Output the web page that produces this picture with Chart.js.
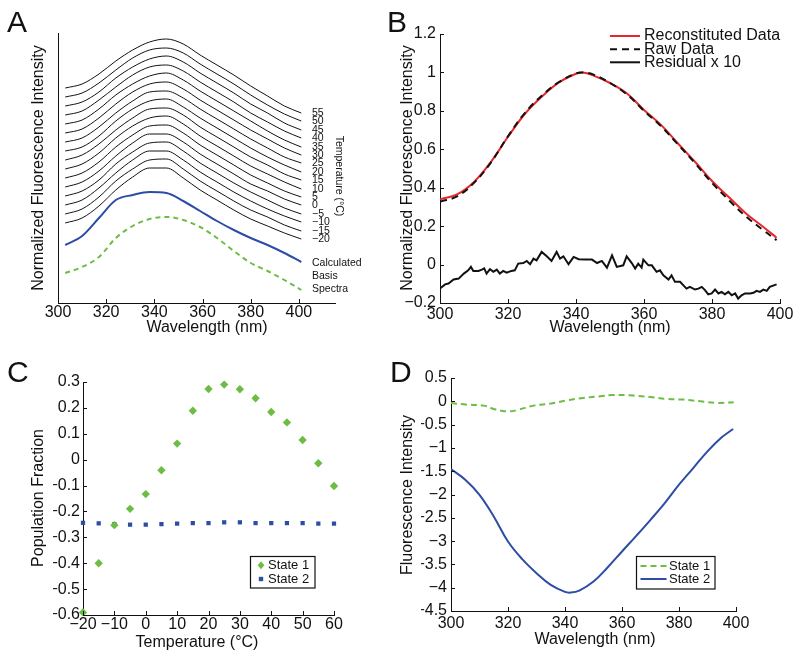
<!DOCTYPE html>
<html><head><meta charset="utf-8">
<script src="https://cdn.jsdelivr.net/npm/chart.js@4.4.0/dist/chart.umd.min.js"></script>
<style>
html,body{margin:0;padding:0;background:#fff;width:799px;height:660px;overflow:hidden;}
body{position:relative;font-family:"Liberation Sans",Arial,Helvetica,sans-serif;}
canvas{position:absolute;}
.lbl{position:absolute;font-size:30px;line-height:30px;color:#111;}
</style></head><body>
<canvas id="cA" width="400" height="345" style="left:0;top:0;width:400px;height:345px"></canvas>
<canvas id="cB" width="399" height="345" style="left:400px;top:0;width:399px;height:345px"></canvas>
<canvas id="cC" width="400" height="330" style="left:0;top:330px;width:400px;height:330px"></canvas>
<canvas id="cD" width="399" height="330" style="left:400px;top:330px;width:399px;height:330px"></canvas>
<div class="lbl" style="left:7px;top:7px">A</div>
<div class="lbl" style="left:387px;top:7px">B</div>
<div class="lbl" style="left:7px;top:357px">C</div>
<div class="lbl" style="left:390px;top:357px">D</div>
<script>
// ---------- Panel A data (offset spectra, arbitrary normalized units) ----------
const aW = [303,310,317,324,331,338,345,352,359,366,373,380,387,394,401];
const aTempLabels = ['55','50','45','40','35','30','25','20','15','10','5','0','\u22125','\u221210','\u221215','\u221220'];
const t55  = [215,219,229,242,253,261,264,259,248,238,228,217,207,197,190];
const t50  = [206,210,220,233,245,253,255,250,239,229,219,208,198,189,182];
const t45  = [197,201,211,225,236,244,247,241,230,220,210,199,190,180,173];
const t40  = [188,192,203,216,228,236,238,232,221,211,201,190,181,172,165];
const t35  = [179,183,194,208,219,227,230,223,212,202,192,182,172,163,156];
const t30  = [170,174,185,199,211,219,221,214,203,193,183,173,164,155,148];
const t25  = [161,165,176,190,202,211,212,205,194,184,174,164,155,146,140];
const t20  = [152,156,167,182,194,202,204,196,185,175,165,155,146,138,131];
const t15  = [143,148,159,173,185,194,195,188,176,166,156,146,138,129,123];
const t10  = [134,139,150,165,177,185,187,179,167,157,147,137,129,121,114];
const t5   = [125,130,141,156,168,177,178,170,158,148,138,128,120,112,106];
const t0   = [116,121,132,147,160,169,169,161,149,139,129,119,112,104,98];
const tm5  = [107,112,123,139,151,160,161,152,140,130,120,111,103,95,89];
const tm10 = [98,103,115,130,143,152,152,143,131,121,111,102,94,87,81];
const tm15 = [89,94,106,122,134,143,144,134,122,112,102,93,86,78,72];
const tm20 = [80,85,97,113,126,135,135,125,113,103,93,84,77,70,64];
const aTemps = [t55,t50,t45,t40,t35,t30,t25,t20,t15,t10,t5,t0,tm5,tm10,tm15,tm20];
const aBasis1 = [58,67,85,103,108,111,110,102,92,82,73,65,58,50,41];   // blue
const aBasis2 = [30,36,46,65,77,84,86,83,76,65,52,40,32,23,13];        // green dashed
const aXTicks = [300,320,340,360,380,400];

// ---------- Panel B data ----------
const bW = [300,305,310,315,320,325,330,335,340,342,345,350,355,360,365,370,375,380,385,390,395,399];
const bRecon = [0.34,0.365,0.43,0.535,0.665,0.785,0.875,0.948,0.993,1.0,0.985,0.945,0.89,0.805,0.727,0.63,0.535,0.435,0.35,0.266,0.197,0.14];
const bRaw   = [0.327,0.355,0.425,0.532,0.668,0.79,0.88,0.95,0.995,1.0,0.99,0.945,0.885,0.80,0.72,0.625,0.528,0.425,0.335,0.25,0.18,0.127];
const bResW = [300,301.5,302.5,304,305.5,307,308.3,309.1,309.8,311.3,312.3,313,313.7,314.7,315.7,316.7,317.6,318.6,319.6,321,322,323,324.5,325.5,326.5,327.5,328.4,329.9,331.4,332.8,334.3,335.3,336.3,337.8,339.3,340.8,342.7,344.7,346.2,347.6,349.1,350.6,352,353.9,354.9,356.4,357.4,358.3,359.3,359.8,361.3,362.3,363.7,364.7,365.7,367.2,368.1,369.1,370.6,371.6,372.5,373.5,375,376,377,378,378.9,379.9,380.9,381.9,382.8,383.8,384.8,385.8,386.8,387.7,388.7,389.7,391.2,392.2,393.1,394.1,395.1,396.1,397,399];
const bResV = [-0.125,-0.103,-0.099,-0.078,-0.073,-0.047,-0.03,-0.012,-0.033,-0.033,-0.026,-0.02,-0.047,-0.024,-0.038,-0.026,-0.047,-0.033,-0.042,-0.033,-0.03,0.005,0.008,0.019,0.002,0.031,0.022,0.066,0.043,0.019,0.066,0.031,0.043,0.002,0.04,0.028,0.026,0.026,0.008,0.019,-0.016,0.048,-0.012,-0.004,0.043,0.008,-0.021,0.005,-0.016,0.026,-0.004,-0.004,-0.038,-0.03,-0.056,-0.078,-0.056,-0.09,-0.09,-0.108,-0.125,-0.116,-0.13,-0.125,-0.116,-0.134,-0.155,-0.15,-0.13,-0.15,-0.142,-0.155,-0.142,-0.16,-0.15,-0.177,-0.16,-0.15,-0.15,-0.147,-0.137,-0.142,-0.13,-0.137,-0.116,-0.103];
const bXTicks = [300,320,340,360,380,400];
const bYTicks = [-0.2,0,0.2,0.4,0.6,0.8,1,1.2];

// ---------- Panel C data ----------
const cTemp = [-20,-15,-10,-5,0,5,10,15,20,25,30,35,40,45,50,55,60];
const cState1 = [-0.59,-0.40,-0.253,-0.19,-0.133,-0.041,0.062,0.189,0.273,0.29,0.272,0.237,0.184,0.144,0.076,-0.014,-0.102];
const cState2 = [-0.244,-0.246,-0.249,-0.251,-0.251,-0.249,-0.247,-0.245,-0.245,-0.242,-0.242,-0.245,-0.245,-0.245,-0.245,-0.247,-0.247];
const cXTicks = [-20,-10,0,10,20,30,40,50,60];
const cYTicks = [-0.6,-0.5,-0.4,-0.3,-0.2,-0.1,0,0.1,0.2,0.3];

// ---------- Panel D data ----------
const dW2 = [300,305,310,315,320,325,330,335,340,342,345,350,355,360,365,370,375,380,385,390,395,399];
const dState2 = [-1.454,-1.683,-2.006,-2.471,-3.009,-3.388,-3.689,-3.94,-4.09,-4.105,-4.062,-3.868,-3.56,-3.223,-2.887,-2.543,-2.185,-1.79,-1.433,-1.074,-0.774,-0.595];
const dW1 = [300,305.6,311.5,315,317.3,320.8,323.7,329,334.9,340.7,346.5,352.4,357,364,369.9,375.8,381.6,387.5,393.3,399.2];
const dState1 = [-0.036,-0.072,-0.093,-0.165,-0.2,-0.215,-0.179,-0.093,-0.05,0.021,0.072,0.107,0.136,0.122,0.093,0.05,0.036,0,-0.036,-0.021];
const dXTicks = [300,320,340,360,380,400];
const dYTicks = [-4.5,-4,-3.5,-3,-2.5,-2,-1.5,-1,-0.5,0,0.5];

// ---------- helpers ----------
const FONT = '"Liberation Sans", Arial, Helvetica, sans-serif';
const INK = '#111111';
const GREEN = '#6dbd45';
const BLUE = '#2d4da5';
const RED = '#e8262b';

function pts(xs, ys){ return xs.map((x,i)=>({x:x, y:ys[i]})); }
function fmt(v){ return String(Math.round(v*100)/100).replace('-', '\u2212'); }
function fixedTicks(arr){ return function(scale){ scale.ticks = arr.map(v=>({value:v})); }; }

function innerTicks(opts){
  return { id:'innerTicks', afterDraw(chart){
    const ctx = chart.ctx, a = chart.chartArea;
    ctx.save(); ctx.strokeStyle = INK; ctx.lineWidth = 1; ctx.beginPath();
    if (opts.x) chart.scales.x.ticks.forEach(t=>{
      const px = Math.round(chart.scales.x.getPixelForValue(t.value)) + 0.5;
      ctx.moveTo(px, a.bottom); ctx.lineTo(px, a.bottom - opts.len);
    });
    if (opts.y) chart.scales.y.ticks.forEach(t=>{
      const py = Math.round(chart.scales.y.getPixelForValue(t.value)) + 0.5;
      ctx.moveTo(a.left, py); ctx.lineTo(a.left + opts.len, py);
    });
    ctx.stroke(); ctx.restore();
  }};
}
function drawText(ctx, it){
  ctx.save();
  ctx.font = (it.size || 16) + 'px ' + FONT;
  ctx.fillStyle = it.color || INK;
  ctx.textAlign = it.align || 'center';
  ctx.textBaseline = it.base || 'alphabetic';
  ctx.translate(it.x, it.y);
  if (it.rot) ctx.rotate(it.rot);
  ctx.fillText(it.t, 0, 0);
  ctx.restore();
}
function texts(items){ return { id:'texts', afterDraw(chart){ items.forEach(it=>drawText(chart.ctx, it)); } }; }

function legendPlugin(cfg){
  return { id:'customLegend', afterDraw(chart){
    const ctx = chart.ctx;
    if (cfg.box){
      ctx.save(); ctx.fillStyle = '#fff'; ctx.strokeStyle = INK; ctx.lineWidth = 1.2;
      ctx.fillRect(cfg.box[0], cfg.box[1], cfg.box[2], cfg.box[3]);
      ctx.strokeRect(cfg.box[0], cfg.box[1], cfg.box[2], cfg.box[3]);
      ctx.restore();
    }
    cfg.items.forEach(it=>{
      ctx.save();
      if (it.line){
        ctx.strokeStyle = it.color; ctx.lineWidth = it.width || 2;
        ctx.setLineDash(it.dash || []);
        ctx.beginPath(); ctx.moveTo(it.line[0], it.y); ctx.lineTo(it.line[1], it.y); ctx.stroke();
      }
      if (it.marker){
        ctx.fillStyle = it.color;
        const m = it.marker;
        ctx.beginPath();
        if (m.type === 'diamond'){ ctx.moveTo(m.x, it.y - m.r); ctx.lineTo(m.x + m.r*0.85, it.y); ctx.lineTo(m.x, it.y + m.r); ctx.lineTo(m.x - m.r*0.85, it.y); ctx.closePath(); }
        else { ctx.rect(m.x - m.r, it.y - m.r, 2*m.r, 2*m.r); }
        ctx.fill();
      }
      ctx.restore();
      drawText(ctx, {t:it.text, x:it.tx, y:it.y, size:cfg.size, align:'left', base:'middle'});
    });
  }};
}

function xAxis(min, max, tickArr, pad, size, h){
  return { type:'linear', min:min, max:max, afterBuildTicks: fixedTicks(tickArr),
    afterFit: s=>{ s.height = h; },
    grid:{display:false, drawTicks:false}, border:{display:true, color:INK, width:1},
    ticks:{font:{family:FONT, size:size}, color:INK, padding:pad, maxRotation:0, minRotation:0, autoSkip:false, callback: fmt} };
}
function yAxis(min, max, tickArr, pad, size, w, show){
  return { type:'linear', min:min, max:max, afterBuildTicks: fixedTicks(tickArr),
    afterFit: s=>{ s.width = w; },
    grid:{display:false, drawTicks:false}, border:{display:true, color:INK, width:1},
    ticks:{display: show, font:{family:FONT, size:size}, color:INK, padding:pad, autoSkip:false, callback: fmt} };
}
const baseOpts = { responsive:false, animation:false, events:[], devicePixelRatio:1,
  plugins:{legend:{display:false}, tooltip:{enabled:false}} };

// ---------- Chart A ----------
const aLabelPlugin = { id:'aLabels', afterDraw(chart){
  const ctx = chart.ctx, ys = chart.scales.y;
  aTemps.forEach((arr, i)=>{
    drawText(ctx, {t:aTempLabels[i], x:312, y: ys.getPixelForValue(arr[arr.length-1]), size:10.5, align:'left', base:'middle'});
  });
  drawText(ctx, {t:'Temperature (\u00B0C)', x:339, y:176, size:10.5, align:'center', base:'middle', rot:Math.PI/2});
  drawText(ctx, {t:'Calculated', x:312, y:263, size:10.5, align:'left', base:'middle'});
  drawText(ctx, {t:'Basis', x:312, y:276.5, size:10.5, align:'left', base:'middle'});
  drawText(ctx, {t:'Spectra', x:312, y:289.5, size:10.5, align:'left', base:'middle'});
}};
new Chart(document.getElementById('cA'), {
  type:'line',
  data:{ datasets: aTemps.map(ys=>({data:pts(aW, ys), borderColor:INK, borderWidth:1, pointRadius:0, cubicInterpolationMode:'monotone', clip:false}))
    .concat([
      {data:pts(aW, aBasis1), borderColor:BLUE, borderWidth:2, pointRadius:0, cubicInterpolationMode:'monotone', clip:false},
      {data:pts(aW, aBasis2), borderColor:GREEN, borderWidth:2, borderDash:[5,4], pointRadius:0, cubicInterpolationMode:'monotone', clip:false}
    ]) },
  options: Object.assign({}, baseOpts, {
    layout:{padding:{left:48, right:65, top:33, bottom:12}},
    scales:{ x: xAxis(300, 415, aXTicks, 0, 16, 30), y: yAxis(0, 270, [], 0, 15, 10, false) }
  }),
  plugins:[innerTicks({x:true, y:false, len:4}), aLabelPlugin,
    texts([{t:'Wavelength (nm)', x:207, y:332, size:16},
           {t:'Normalized Fluorescence Intensity', x:43, y:168, size:16, rot:-Math.PI/2}])]
});

// ---------- Chart B ----------
new Chart(document.getElementById('cB'), {
  type:'line',
  data:{ datasets:[
    {data:pts(bW, bRaw), borderColor:INK, borderWidth:2, borderDash:[7,5], pointRadius:0, tension:0.4},
    {data:pts(bW, bRecon), borderColor:RED, borderWidth:2, pointRadius:0, tension:0.4},
    {data:pts(bResW, bResV), borderColor:INK, borderWidth:2, pointRadius:0, tension:0}
  ]},
  options: Object.assign({}, baseOpts, {
    layout:{padding:{left:4, right:19, top:34, bottom:12}},
    scales:{ x: xAxis(300, 400, bXTicks, 2, 16, 30), y: yAxis(-0.2, 1.2, bYTicks, 4, 16, 36, true) }
  }),
  plugins:[innerTicks({x:true, y:true, len:4}),
    legendPlugin({size:16, items:[
      {text:'Reconstituted Data', y:36, tx:244, line:[210,240], color:RED, width:2},
      {text:'Raw Data', y:49.3, tx:244, line:[210,240], color:INK, width:2, dash:[7,5]},
      {text:'Residual x 10', y:62.3, tx:244, line:[210,240], color:INK, width:2}
    ]}),
    texts([{t:'Wavelength (nm)', x:210, y:332, size:16},
           {t:'Normalized Fluorescence Intensity', x:11.5, y:168, size:16, rot:-Math.PI/2}])]
});

// ---------- Chart C ----------
new Chart(document.getElementById('cC'), {
  type:'scatter',
  data:{ datasets:[
    {data:pts(cTemp, cState1), pointStyle:'rectRot', pointRadius:4.2, backgroundColor:GREEN, borderColor:GREEN, borderWidth:0, clip:false},
    {data:pts(cTemp, cState2), pointStyle:'rect', pointRadius:3, backgroundColor:BLUE, borderColor:BLUE, borderWidth:0, clip:false}
  ]},
  options: Object.assign({}, baseOpts, {
    layout:{padding:{left:53, right:66, top:52, bottom:15}},
    scales:{ x: xAxis(-20, 60, cXTicks, 0, 16, 30), y: yAxis(-0.6, 0.3, cYTicks, 3, 16, 30, true) }
  }),
  plugins:[innerTicks({x:true, y:true, len:4}),
    legendPlugin({size:13, box:[250.5, 226.5, 64.5, 31.5], items:[
      {text:'State 1', y:235.3, tx:268, color:GREEN, marker:{type:'diamond', x:261, r:4}},
      {text:'State 2', y:249, tx:268, color:BLUE, marker:{type:'square', x:261, r:2.2}}
    ]}),
    texts([{t:'Temperature (\u00B0C)', x:197, y:317, size:16},
           {t:'Population Fraction', x:43, y:168, size:16, rot:-Math.PI/2}])]
});

// ---------- Chart D ----------
new Chart(document.getElementById('cD'), {
  type:'line',
  data:{ datasets:[
    {data:pts(dW1, dState1), borderColor:GREEN, borderWidth:2, borderDash:[6,4], pointRadius:0, tension:0.4},
    {data:pts(dW2, dState2), borderColor:BLUE, borderWidth:2, pointRadius:0, tension:0.4}
  ]},
  options: Object.assign({}, baseOpts, {
    layout:{padding:{left:21, right:63, top:48, bottom:19}},
    scales:{ x: xAxis(300, 400, dXTicks, 3, 16, 30), y: yAxis(-4.5, 0.5, dYTicks, 4, 16, 30, true) }
  }),
  plugins:[innerTicks({x:true, y:true, len:4}),
    legendPlugin({size:13, box:[236.5, 226.5, 78.5, 32.5], items:[
      {text:'State 1', y:236, tx:269, line:[240.5,266.5], color:GREEN, width:2, dash:[6,4]},
      {text:'State 2', y:249, tx:269, line:[240.5,266.5], color:BLUE, width:2}
    ]}),
    texts([{t:'Wavelength (nm)', x:195, y:314, size:16},
           {t:'Fluorescence Intensity', x:11.5, y:165, size:16, rot:-Math.PI/2}])]
});
</script>
</body></html>
